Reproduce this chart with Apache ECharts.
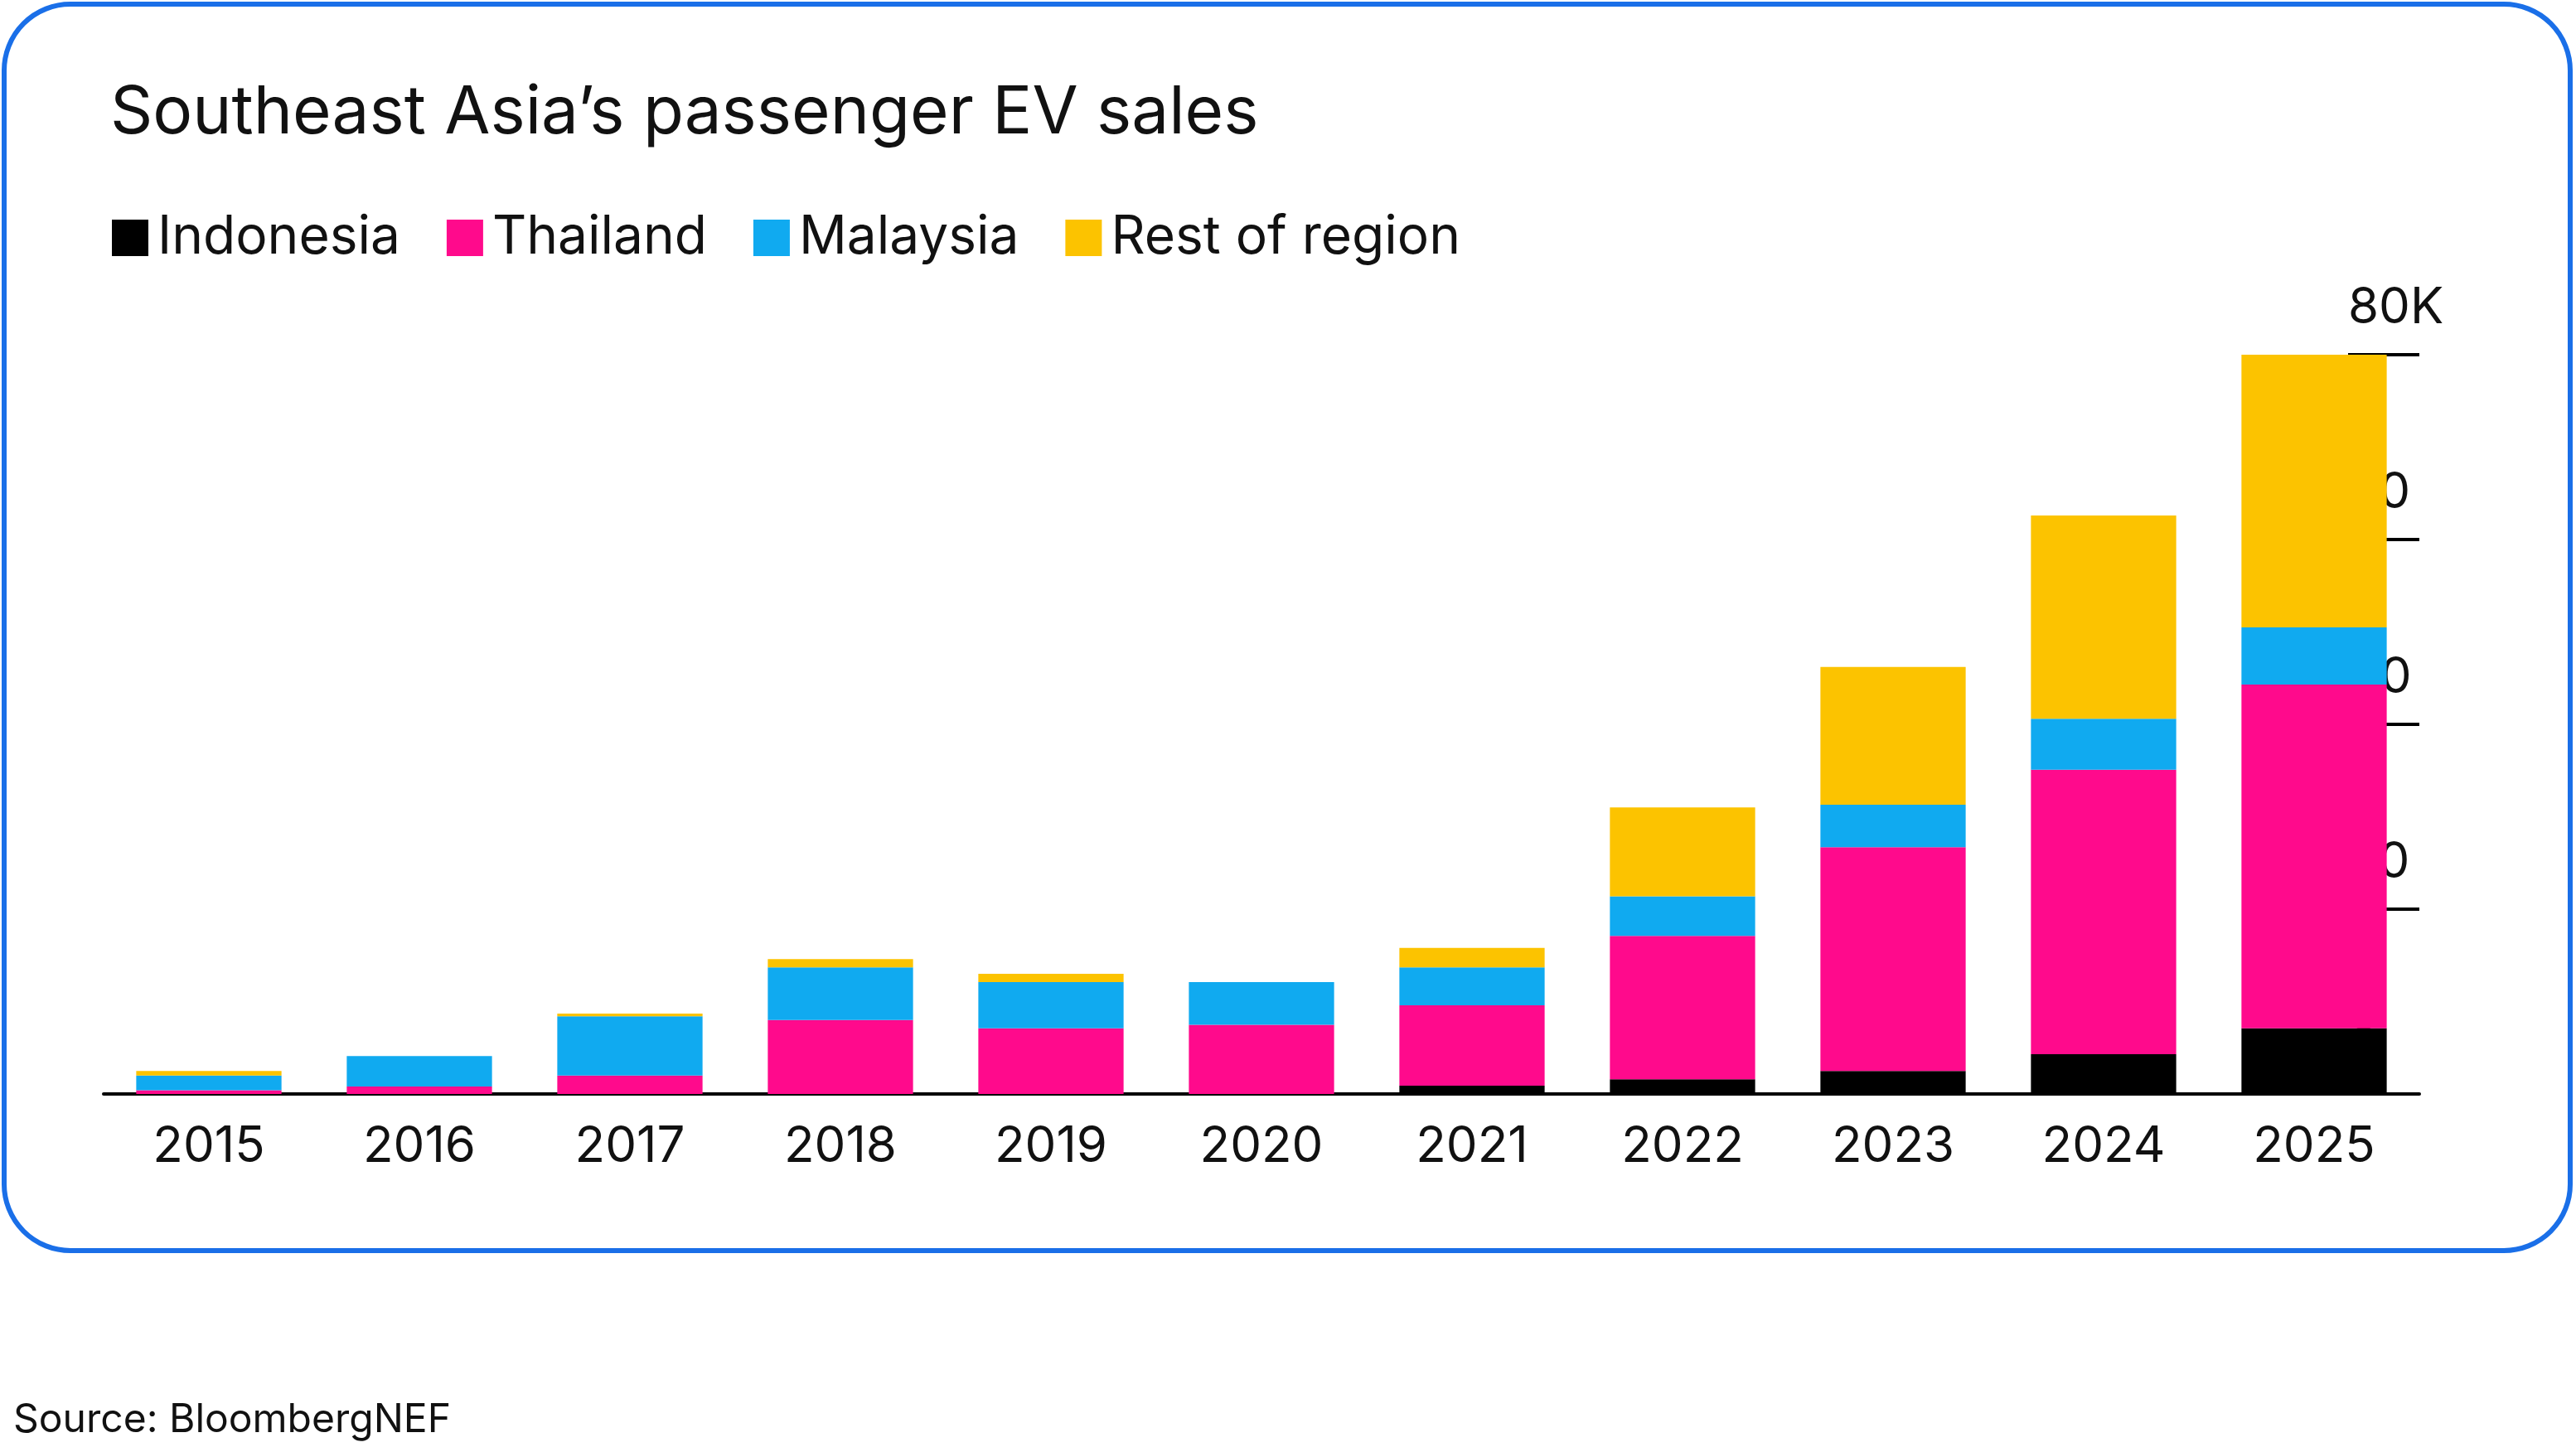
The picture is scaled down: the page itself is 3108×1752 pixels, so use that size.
<!DOCTYPE html>
<html>
<head>
  <meta charset="utf-8">
  <title>Southeast Asia EV sales</title>
  <script src="https://cdn.jsdelivr.net/npm/echarts@6/dist/echarts.min.js"></script>
  <style>
    html, body { margin: 0; padding: 0; background: #fff; }
    #chart { width: 3108px; height: 1752px; }
  </style>
</head>
<body>
  <div id="chart"></div>
  <script>
    // data, thousands of vehicles
    var years = ['2015', '2016', '2017', '2018', '2019', '2020', '2021', '2022', '2023', '2024', '2025'];
    var indonesia = [0, 0, 0, 0, 0, 0, 0.9, 1.6, 2.5, 4.3, 7.1];
    var thailand = [0.4, 0.8, 2.0, 8.0, 7.1, 7.5, 8.7, 15.5, 24.2, 30.8, 37.2];
    var malaysia = [1.6, 3.3, 6.4, 5.7, 5.0, 4.6, 4.1, 4.3, 4.6, 5.5, 6.2];
    var rest = [0.5, 0, 0.3, 0.9, 0.9, 0, 2.1, 9.6, 14.9, 22.0, 29.5];
    var yTicks = [0, 20, 40, 60, 80];

    var font = 'Inter, "Noto Sans", sans-serif';
    function bar(name, data, color) {
      return { name: name, type: 'bar', stack: 'all', data: data, barWidth: '69%', itemStyle: { color: color } };
    }

    var myChart = echarts.init(document.getElementById('chart'));
    var option = {
      animation: false,
      textStyle: { fontFamily: font },
      title: {
        text: 'Southeast Asia\u2019s passenger EV sales',
        left: 128, top: 92,
        textStyle: { fontSize: 80, fontWeight: 'normal', color: '#111', fontFamily: font }
      },
      legend: {
        left: 130, top: 250, itemWidth: 44, itemHeight: 44, itemGap: 56,
        icon: 'rect',
        textStyle: { fontSize: 64, color: '#111', padding: [0, 0, 0, 6] },
        data: ['Indonesia', 'Thailand', 'Malaysia', 'Rest of region']
      },
      grid: { left: 125, right: 189, top: 428, bottom: 432 },
      xAxis: {
        type: 'category', data: years,
        axisLine: { lineStyle: { color: '#000', width: 4 } },
        axisTick: { show: false },
        axisLabel: { fontSize: 60, color: '#111', margin: 34 }
      },
      yAxis: {
        type: 'value', position: 'right', min: 0, max: 80, interval: 20,
        splitLine: { show: false },
        axisLine: { show: false },
        axisTick: { show: true, inside: true, length: 86, lineStyle: { color: '#000', width: 4 } },
        axisLabel: {
          fontSize: 60, color: '#111', margin: -86, align: 'left', verticalAlign: 'bottom',
          padding: [0, 0, 26, 0],
          formatter: function (v) { return yTicks.indexOf(v) < 0 ? '' : (v === 80 ? '80K' : String(v)); }
        }
      },
      graphic: [
        { type: 'rect', shape: { x: 5, y: 5, width: 3096, height: 1504, r: 80 },
          style: { fill: 'none', stroke: '#1a6fe8', lineWidth: 6 } },
        { type: 'text', left: 16, top: 1690,
          style: { text: 'Source: BloombergNEF', fontSize: 48, fill: '#111', fontFamily: font } }
      ],
      series: [
        bar('Indonesia', indonesia, '#000000'),
        bar('Thailand', thailand, '#ff0a8c'),
        bar('Malaysia', malaysia, '#10aaf0'),
        bar('Rest of region', rest, '#fcc300')
      ]
    };
    myChart.setOption(option);
  </script>
</body>
</html>
